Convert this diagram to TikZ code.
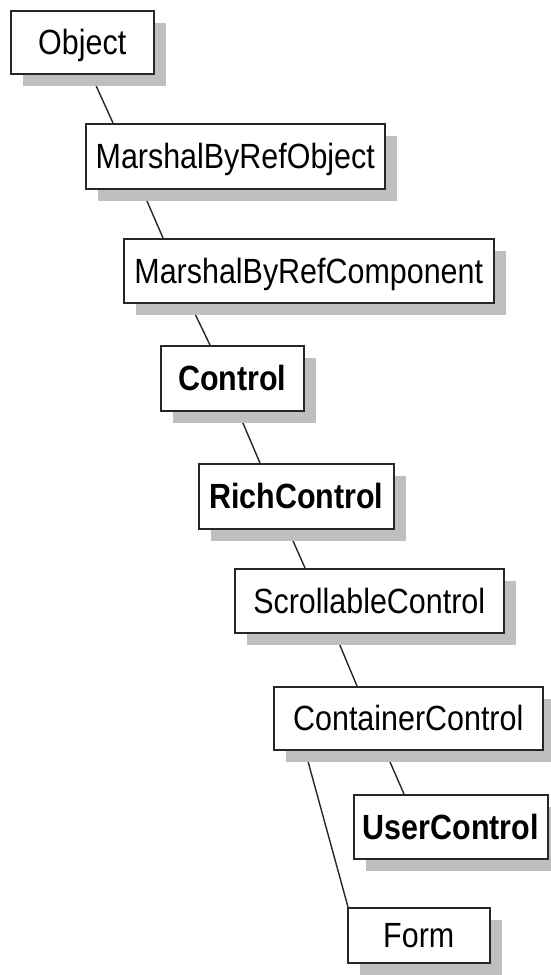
\documentclass[tikz,border=0pt]{standalone}
\usepackage{fontspec}
\setmainfont[FakeStretch=0.87]{Liberation Sans}
\usetikzlibrary{shadows,backgrounds}
\begin{document}
\begin{tikzpicture}[x=1pt,y=-1pt,
  cls/.style={draw=black!85, line width=1.5pt, fill=white, inner sep=0pt, anchor=north west,
    minimum height=64pt, text height=25pt, text depth=0pt,
    font=\fontsize{35}{40}\selectfont,
    drop shadow={shadow xshift=12pt, shadow yshift=-12pt, fill=black!25, opacity=1, draw=none}},
  bcls/.style={cls, font=\fontsize{35}{40}\selectfont\bfseries},
  link/.style={line width=1.4pt, draw=black!85}]
\useasboundingbox (0,0) rectangle (551,975);
\node[cls, minimum width=143pt, minimum height=63pt] (obj) at (10,10) {Object};
\node[cls, minimum width=299pt, minimum height=65pt] (mbro) at (85,123) {MarshalByRefObject};
\node[cls, minimum width=370pt] (mbrc) at (123,238) {MarshalByRefComponent};
\node[bcls, minimum width=143pt, minimum height=65pt] (ctl) at (160,345) {Control};
\node[bcls, minimum width=195pt, minimum height=65pt] (rich) at (198,463) {RichControl};
\node[cls, minimum width=269pt] (scr) at (234,568) {ScrollableControl};
\node[cls, minimum width=269pt, minimum height=63pt] (cont) at (273,686) {ContainerControl};
\node[bcls, minimum width=194pt] (user) at (353,794) {UserControl};
\node[cls, minimum width=142pt, minimum height=55pt] (form) at (347,907) {Form};
\begin{scope}[on background layer]
\draw[link] ([xshift=81pt]obj.south west) -- ([xshift=28pt]mbro.north west);
\draw[link] ([xshift=57pt]mbro.south west) -- ([xshift=40pt]mbrc.north west);
\draw[link] ([xshift=67pt]mbrc.south west) -- ([xshift=50pt]ctl.north west);
\draw[link] ([xshift=78pt]ctl.south west) -- ([xshift=62pt]rich.north west);
\draw[link] ([xshift=90pt]rich.south west) -- ([xshift=71pt]scr.north west);
\draw[link] ([xshift=101pt]scr.south west) -- ([xshift=84pt]cont.north west);
\draw[link] ([xshift=112pt]cont.south west) -- ([xshift=51pt]user.north west);
\draw[link] ([xshift=32pt]cont.south west) -- ([xshift=1pt]form.north west);
\end{scope}
\end{tikzpicture}
\end{document}
